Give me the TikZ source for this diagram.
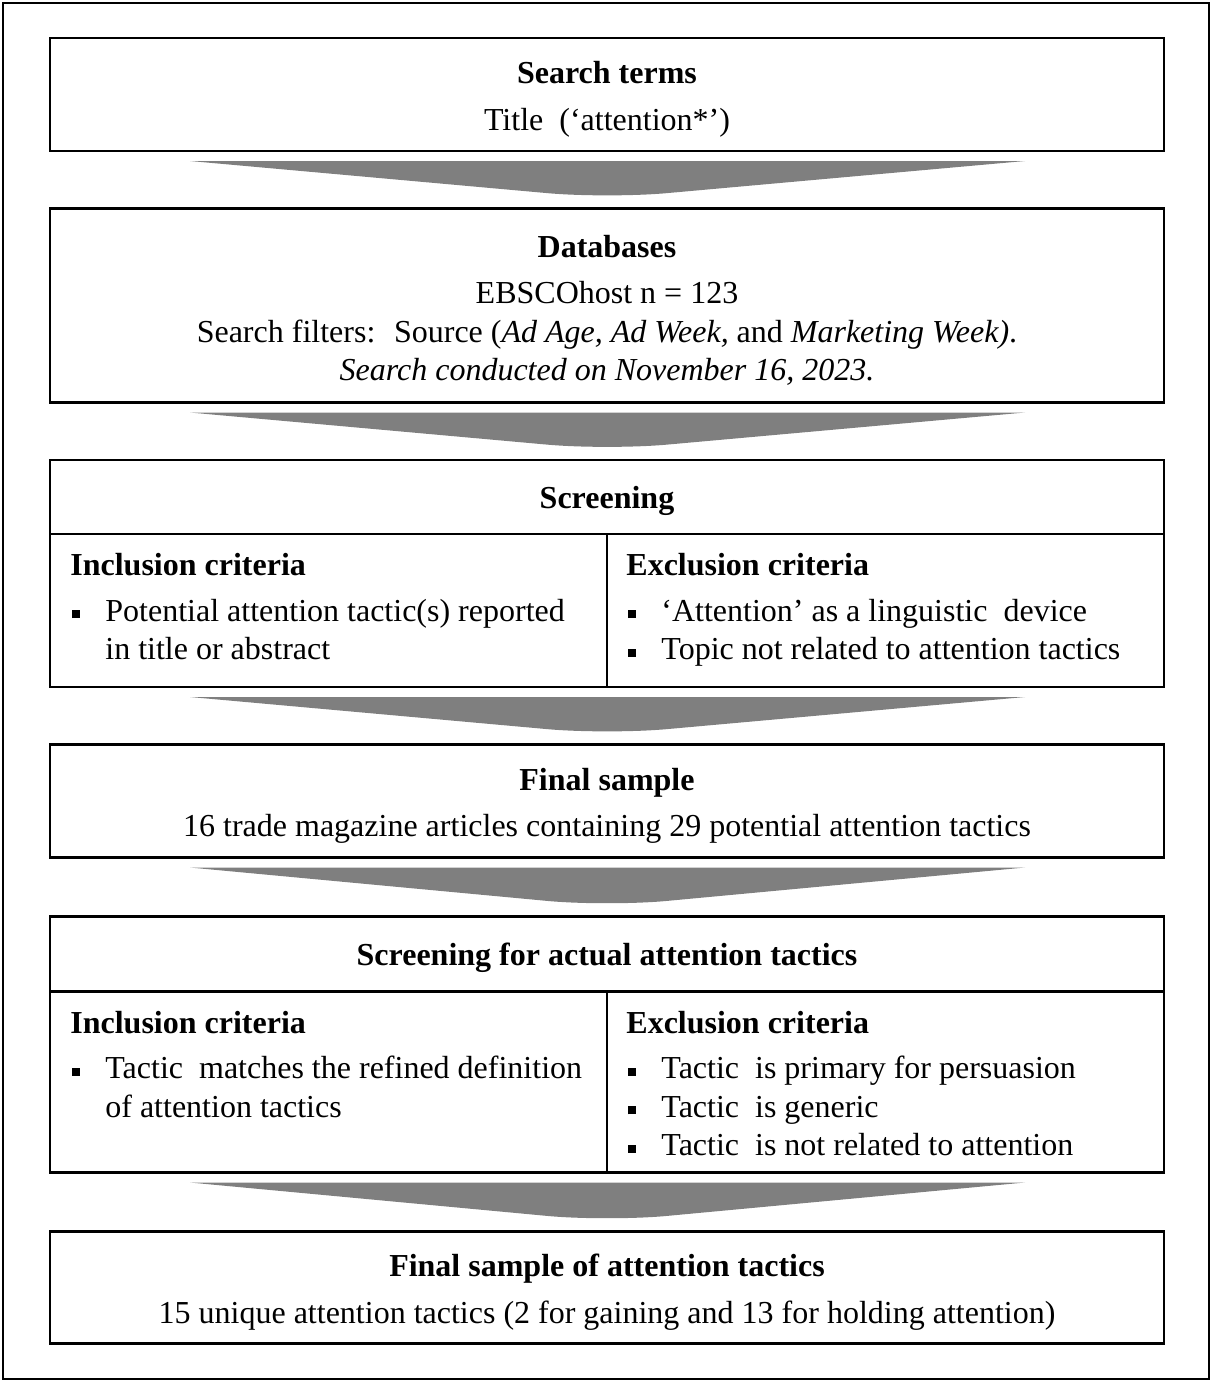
\documentclass[tikz,border=0pt]{standalone}
\usepackage{fontspec}
\setmainfont{Liberation Serif}
\usetikzlibrary{positioning, calc}
\definecolor{flowgray}{HTML}{7F7F7F}
\newcommand{\sqitem}{\makebox[17.5pt][l]{\hspace{1pt}\rule[1.5pt]{4pt}{4pt}}}
\newcommand{\sqcont}{\hspace*{17.5pt}}
\newcommand{\toplift}{\rule{0pt}{16pt}}

\begin{document}
\begin{tikzpicture}[x=0.5pt, y=-0.5pt,
    node distance=28.75pt,
    box/.style={rectangle, draw=black, line width=1.2pt, minimum width=557pt, outer sep=0pt,
                align=center, inner sep=0pt, font=\fontsize{16}{19.3}\selectfont},
    headbox/.style={box, execute at begin node=\rule{0pt}{15pt}},
    cell/.style={rectangle, draw=black, line width=1.2pt, minimum width=278.5pt,
                 outer sep=0pt, inner sep=0pt},
    celltext/.style={anchor=north west, align=left, inner sep=0pt,
                     font=\fontsize{16}{19.3}\selectfont},
    flow/.style={fill=flowgray}
  ]
  \useasboundingbox (0,0) rectangle (1213,1382);
  \draw[line width=1pt] (3,3) rectangle (1209,1379);

  \node[box, minimum height=56.5pt, anchor=north] (terms) at (607,38)
    {\toplift\textbf{Search terms}\\[4pt] Title~ (‘attention*’)};
  \node[box, minimum height=97pt, below=of terms] (dbs)
    {\toplift\textbf{Databases}\\[4pt] EBSCOhost n = 123\\
     Search filters:~ Source (\textit{Ad Age, Ad Week,} and \textit{Marketing Week)}.\\
     \textit{Search conducted on November 16, 2023.}};

  % first screening
  \node[headbox, minimum height=37pt, below=of dbs] (scrhead) {\textbf{Screening}};
  \node[cell, minimum height=76.5pt, anchor=north west] (scrin) at (scrhead.south west) {};
  \node[cell, minimum height=76.5pt, anchor=north east] (screx) at (scrhead.south east) {};
  \node[celltext] (scrintxt) at ($(scrin.north west)+(20,19)$)
    {\textbf{Inclusion criteria}\\[3.5pt]
     \sqitem Potential attention tactic(s) reported\\
     \sqcont in title or abstract};
  \node[celltext] (scrextxt) at ($(screx.north west)+(19,19)$)
    {\textbf{Exclusion criteria}\\[3.5pt]
     \sqitem ‘Attention’ as a linguistic~ device\\
     \sqitem Topic not related to attention tactics};

  \node[box, minimum height=56.5pt, below=of scrin.south east] (final)
    {\toplift\textbf{Final sample}\\[4pt] 16 trade magazine articles containing 29 potential attention tactics};

  % second screening
  \node[headbox, minimum height=37.5pt, below=29.5pt of final] (acthead) {\textbf{Screening for actual attention tactics}};
  \node[cell, minimum height=90.5pt, anchor=north west] (actin) at (acthead.south west) {};
  \node[cell, minimum height=90.5pt, anchor=north east] (actex) at (acthead.south east) {};
  \node[celltext] (actintxt) at ($(actin.north west)+(20,19)$)
    {\textbf{Inclusion criteria}\\[3.5pt]
     \sqitem Tactic~ matches the refined definition\\
     \sqcont of attention tactics};
  \node[celltext] (actextxt) at ($(actex.north west)+(19,19)$)
    {\textbf{Exclusion criteria}\\[3.5pt]
     \sqitem Tactic~ is primary for persuasion\\
     \sqitem Tactic~ is generic\\
     \sqitem Tactic~ is not related to attention};

  \node[box, minimum height=56pt, below=29.5pt of actin.south east] (tactics)
    {\toplift\textbf{Final sample of attention tactics}\\[4pt]
     15 unique attention tactics (2 for gaining and 13 for holding attention)};

  % wide arrows between the stages
  \foreach \a/\b in {terms.south/dbs.north, dbs.south/scrhead.north,
                     scrin.south east/final.north, final.south/acthead.north,
                     actin.south east/tactics.north}
    \fill[flow] ($(\a)+(-417,10)$) -- ($(\a)+(418,10)$) [rounded corners=30pt]
      -- ($(\b)+(0,-10)$) [sharp corners] -- cycle;
\end{tikzpicture}
\end{document}
